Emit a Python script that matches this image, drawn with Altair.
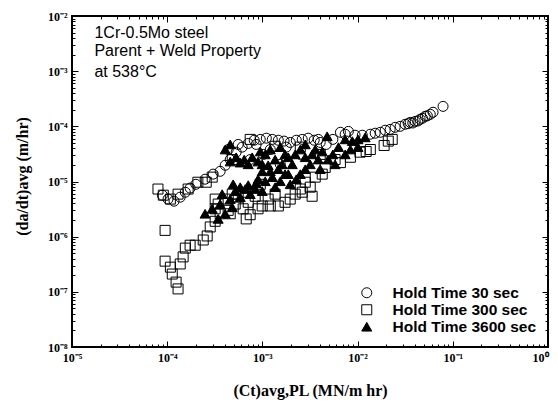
import altair as alt
import pandas as pd

series_names = ["Hold Time 30 sec", "Hold Time 300 sec", "Hold Time 3600 sec"]

# Hold time 30 sec (open circles)
c30_x = [8.9e-5, 1.02e-4, 1.18e-4, 1.37e-4, 1.55e-4, 1.74e-4, 2.0e-4,
         2.5e-4, 3.04e-4, 3.6e-4, 4.07e-4, 4.59e-4, 5.3e-4, 6.13e-4, 7.1e-4, 8.2e-4, 9.5e-4,
         1.1e-3, 1.27e-3, 1.47e-3, 1.69e-3, 1.96e-3, 2.27e-3, 2.62e-3, 3.03e-3, 3.5e-3, 4.05e-3,
         4.68e-3, 5.5e-3, 6.6e-3, 8.0e-3, 9.4e-3, 1.12e-2, 1.36e-2, 1.53e-2, 1.73e-2, 1.95e-2,
         2.2e-2, 2.48e-2, 2.8e-2, 3.16e-2, 3.57e-2, 4.03e-2, 4.54e-2, 5.13e-2, 5.8e-2, 7.9e-2,
         7.44e-4, 1.02e-3, 1.54e-3, 2.5e-3, 1.21e-3, 4.37e-4,
         3.4e-2, 3.8e-2, 4.3e-2, 4.8e-2, 5.4e-2, 6.2e-2,
         5.57e-4, 8.6e-4, 1.78e-3, 3.86e-3, 7.4e-3]
c30_y = [5.65e-6, 4.8e-6, 4.4e-6, 5.2e-6, 6.4e-6, 7.6e-6, 8.9e-6,
         1.1e-5, 1.36e-5, 1.53e-5, 1.97e-5, 2.5e-5, 3.4e-5, 4.2e-5, 4.9e-5, 5.6e-5, 5.8e-5,
         6.1e-5, 5.8e-5, 5.6e-5, 5.4e-5, 5.1e-5, 5.6e-5, 5.8e-5, 6.1e-5, 5.6e-5, 5.1e-5,
         4.7e-5, 5.8e-5, 7.8e-5, 8.1e-5, 6.9e-5, 6.9e-5, 7.2e-5, 7.5e-5, 7.8e-5, 8.5e-5,
         8.8e-5, 9.6e-5, 1.0e-4, 1.09e-4, 1.18e-4, 1.23e-4, 1.34e-4, 1.52e-4, 1.65e-4, 2.3e-4,
         2.5e-5, 3.1e-5, 2.05e-5, 3.1e-5, 3.8e-5, 3.8e-5,
         1.12e-4, 1.15e-4, 1.25e-4, 1.4e-4, 1.55e-4, 1.8e-4,
         4.7e-5, 4.7e-5, 4.2e-5, 5.8e-5, 7.2e-5]

# Hold time 300 sec (open squares)
s300_x = [9.5e-5, 9.5e-5, 1.08e-4, 1.13e-4, 1.24e-4, 1.3e-4, 1.37e-4, 1.47e-4, 1.55e-4, 1.74e-4,
          1.97e-4, 2.39e-4, 2.63e-4, 2.83e-4, 3.19e-4, 3.6e-4, 4.37e-4, 5.18e-4, 6.28e-4, 7.44e-4,
          6.76e-4, 4.07e-4, 3.19e-4, 9.95e-4, 1.21e-3, 1.47e-3, 1.73e-3, 2.21e-3, 2.62e-3, 3.18e-3,
          3.33e-3, 4.25e-3, 4.57e-3, 6.6e-3, 8.4e-3, 1.06e-2, 1.23e-2, 1.9e-2, 2.1e-2,
          8.0e-5, 9.1e-5, 1.08e-4, 1.3e-4, 1.66e-4, 2.1e-4, 2.57e-4, 2.97e-4, 4.82e-4, 7.44e-4,
          1.36e-3, 2.5e-3, 4.05e-3, 3.19e-4, 4.82e-4, 8.4e-4, 1.36e-3, 9.5e-4,
          3.43e-4, 4.59e-4, 5.57e-4, 7.1e-4, 9.0e-4, 1.15e-3, 1.96e-3, 2.5e-3, 2.82e-3, 3.59e-3,
          5.8e-3, 1.36e-2, 2.31e-2]
s300_y = [1.3e-6, 3.6e-7, 2.8e-7, 2.1e-7, 1.5e-7, 1.13e-7, 3.2e-7, 4.3e-7, 6.2e-7, 7.0e-7,
          7.0e-7, 8.7e-7, 1.03e-6, 1.5e-6, 1.9e-6, 2.6e-6, 3.0e-6, 3.9e-6, 3.2e-6, 2.5e-6,
          2.1e-6, 4.8e-6, 4.8e-6, 3.6e-6, 3.6e-6, 3.6e-6, 4.2e-6, 5.9e-6, 6.4e-6, 7.9e-6,
          5.4e-6, 1.36e-5, 1.8e-5, 2.2e-5, 2.75e-5, 3.4e-5, 3.5e-5, 4.5e-5, 5.4e-5,
          7.3e-6, 5.65e-6, 4.8e-6, 5.9e-6, 7.3e-6, 9.7e-6, 9.7e-6, 1.2e-5, 2.5e-5, 5.8e-5,
          4.35e-5, 4.2e-5, 3.1e-5, 3.2e-6, 5.9e-6, 5.4e-6, 5.9e-6, 8.9e-6,
          3.9e-6, 2.6e-6, 5.2e-6, 4.2e-6, 3.2e-6, 4.8e-6, 4.8e-6, 7.3e-6, 9.7e-6, 1.2e-5,
          2.5e-5, 3.8e-5, 5.8e-5]

# Hold time 3600 sec (filled triangles)
t3600_x = [2.5e-4, 2.97e-4, 3.6e-4, 4.07e-4, 4.59e-4, 5.18e-4, 5.85e-4, 7.1e-4, 8.6e-4, 1.07e-3,
           1.27e-3, 9.95e-4, 1.15e-3, 1.36e-3, 1.61e-3, 1.87e-3, 2.21e-3, 2.5e-3, 2.82e-3, 4.59e-4,
           5.3e-4, 6.44e-4, 7.81e-4, 9.5e-4, 1.21e-3, 1.54e-3, 5.85e-4, 7.44e-4, 9.95e-4, 1.36e-3,
           1.96e-3, 1.73e-3, 2.5e-3, 3.18e-3, 3.86e-3, 4.91e-3, 5.5e-3, 6.3e-3, 7.4e-3, 8.8e-3,
           1.01e-2, 1.2e-2, 4.79e-3, 3.59e-3, 4.05e-3, 4.07e-4, 4.59e-4, 5.8e-3, 7.4e-3,
           4.93e-4, 6.6e-4, 8.4e-4, 9.0e-4, 9.95e-4, 1.21e-3, 1.47e-3, 1.54e-3, 1.87e-3, 2.06e-3,
           2.27e-3, 2.82e-3, 2.82e-3, 3.33e-3, 4.25e-3, 5.85e-4, 7.1e-4, 9.0e-4, 1.73e-3, 1.07e-3,
           3.78e-4, 3.43e-4, 4.82e-4, 8.4e-3, 1.01e-2]
t3600_y = [2.6e-6, 3.2e-6, 3.9e-6, 2.6e-6, 4.8e-6, 6.7e-6, 7.9e-6, 8.6e-6, 9.3e-6, 1.01e-5,
           1.2e-5, 1.53e-5, 1.97e-5, 2.5e-5, 2.05e-5, 2.75e-5, 3.1e-5, 3.8e-5, 4.7e-5, 2.3e-5,
           2.75e-5, 2.5e-5, 2.75e-5, 3.5e-5, 3.8e-5, 4.2e-5, 5.2e-6, 5.9e-6, 6.7e-6, 7.9e-6,
           8.9e-6, 1.36e-5, 1.36e-5, 2.05e-5, 2.5e-5, 2.5e-5, 3.1e-5, 4.2e-5, 5.8e-5, 5.4e-5,
           5.8e-5, 6.3e-5, 6.6e-5, 3.8e-5, 1.67e-5, 3.8e-5, 4.7e-5, 2.05e-5, 3.1e-5,
           8.9e-6, 7.3e-6, 7.3e-6, 1.1e-5, 2.05e-5, 1.53e-5, 1.67e-5, 1.01e-5, 1.36e-5, 2.05e-5,
           1.1e-5, 1.67e-5, 2.75e-5, 3.1e-5, 3.5e-5, 2.2e-5, 2.05e-5, 2.3e-5, 3.1e-5, 3.1e-5,
           5.9e-6, 2.1e-6, 3.4e-6, 3.8e-5, 4.2e-5]

note_lines = ["1Cr-0.5Mo steel", "Parent + Weld Property", "at 538°C"]
note_x = [1.72e-5, 1.72e-5, 1.72e-5]
note_y = [3.92e-3, 1.85e-3, 7.7e-4]

x_ticks = [m * 10.0 ** k for k in range(-5, 0) for m in range(1, 10)] + [1.0]
y_ticks = [m * 10.0 ** k for k in range(-8, -2) for m in range(1, 10)] + [1e-2]

rows = []
for name, xs, ys in [(series_names[0], c30_x, c30_y),
                     (series_names[1], s300_x, s300_y),
                     (series_names[2], t3600_x, t3600_y)]:
    for a, b in zip(xs, ys):
        rows.append({"series": name, "ct": a, "dadt": b})
df = pd.DataFrame(rows)
notes = pd.DataFrame({"txt": note_lines, "nx": note_x, "ny": note_y})

is_major = "abs(log(datum.value)/LN10 - round(log(datum.value)/LN10)) < 0.001"
exp_str = "toString(round(log(datum.value)/LN10))"
for src, dst in [("-", "⁻"), ("0", "⁰"), ("1", "¹"), ("2", "²"), ("3", "³"), ("4", "⁴"),
                 ("5", "⁵"), ("6", "⁶"), ("7", "⁷"), ("8", "⁸"), ("9", "⁹")]:
    exp_str = f"replace({exp_str}, '{src}', '{dst}')"
label_expr = f"({is_major}) ? '10' + {exp_str} : ''"
tick_dash = {"condition": {"test": is_major, "value": [6, 0]}, "value": [0, 3, 3]}

xscale = alt.Scale(type="log", domain=[1e-5, 1], nice=False)
yscale = alt.Scale(type="log", domain=[1e-8, 1e-2], nice=False)

serif = "Liberation Serif"
sans = "Liberation Sans"

common_axis = dict(tickSize=6, tickDash=tick_dash, offset=-6, domain=False, grid=False,
                   tickColor="black", tickWidth=1, labelOverlap=False, labelFlush=False,
                   labelBound=False)

x_axis = alt.Axis(orient="bottom", values=x_ticks, labelExpr=label_expr,
                  labelFont=serif, labelFontSize=12, labelFontWeight="bold", labelColor="black",
                  labelPadding=5,
                  labelAlign={"condition": {"test": "datum.value >= 0.5", "value": "right"},
                              "value": "center"},
                  labelBaseline="top",
                  title="(Ct)avg,PL (MN/m hr)", titleFont=serif, titleFontSize=16,
                  titleFontWeight="bold", titleColor="black", titlePadding=19, **common_axis)
y_axis = alt.Axis(orient="left", values=y_ticks, labelExpr=label_expr,
                  labelFont=serif, labelFontSize=12, labelFontWeight="bold", labelColor="black",
                  labelPadding=5, labelAlign="right", labelBaseline="middle",
                  title="(da/dt)avg (m/hr)", titleFont=serif, titleFontSize=16,
                  titleFontWeight="bold", titleColor="black", titlePadding=17, titleY=160,
                  **common_axis)
x_top = alt.Axis(orient="top", values=x_ticks, labels=False, title=None, **common_axis)
y_right = alt.Axis(orient="right", values=y_ticks, labels=False, title=None, **common_axis)

legend = alt.Legend(title=None, orient="none", legendX=287, legendY=269, padding=0,
                    labelFont=sans, labelFontSize=15.5, labelFontWeight="bold", labelColor="black",
                    labelOffset=18, rowPadding=0, symbolSize=100, symbolStrokeColor="black",
                    symbolStrokeWidth=1)

points = alt.Chart(df).mark_point(filled=True, strokeWidth=1, size=100, opacity=1).encode(
    x=alt.X("ct:Q", scale=xscale, axis=x_axis),
    y=alt.Y("dadt:Q", scale=yscale, axis=y_axis),
    shape=alt.Shape("series:N", scale=alt.Scale(domain=series_names,
                                                range=["circle", "square", "triangle-up"]),
                    legend=legend),
    fill=alt.Fill("series:N", scale=alt.Scale(domain=series_names,
                                              range=["transparent", "transparent", "black"]),
                  legend=legend),
    stroke=alt.Stroke("series:N", scale=alt.Scale(domain=series_names,
                                                  range=["black", "black", "black"]),
                      legend=legend),
)

frame = alt.Chart(df).mark_point(opacity=0).encode(
    x=alt.X("ct:Q", scale=xscale, axis=x_top),
    y=alt.Y("dadt:Q", scale=yscale, axis=y_right),
)

text = alt.Chart(notes).mark_text(align="left", baseline="alphabetic", font=sans,
                                  fontSize=16, color="black").encode(
    x=alt.X("nx:Q", scale=xscale, axis=None),
    y=alt.Y("ny:Q", scale=yscale, axis=None),
    text="txt:N",
)

chart = alt.layer(points, frame, text).resolve_axis(
    x="independent", y="independent"
).properties(
    width=476, height=331,
    autosize=alt.AutoSizeParams(type="none"),
    padding={"left": 64, "top": 8, "right": 2, "bottom": 57},
    background="white",
).configure_view(stroke="black", strokeWidth=2)

chart.save("out.html", embed_options={"renderer": "svg", "actions": False})
